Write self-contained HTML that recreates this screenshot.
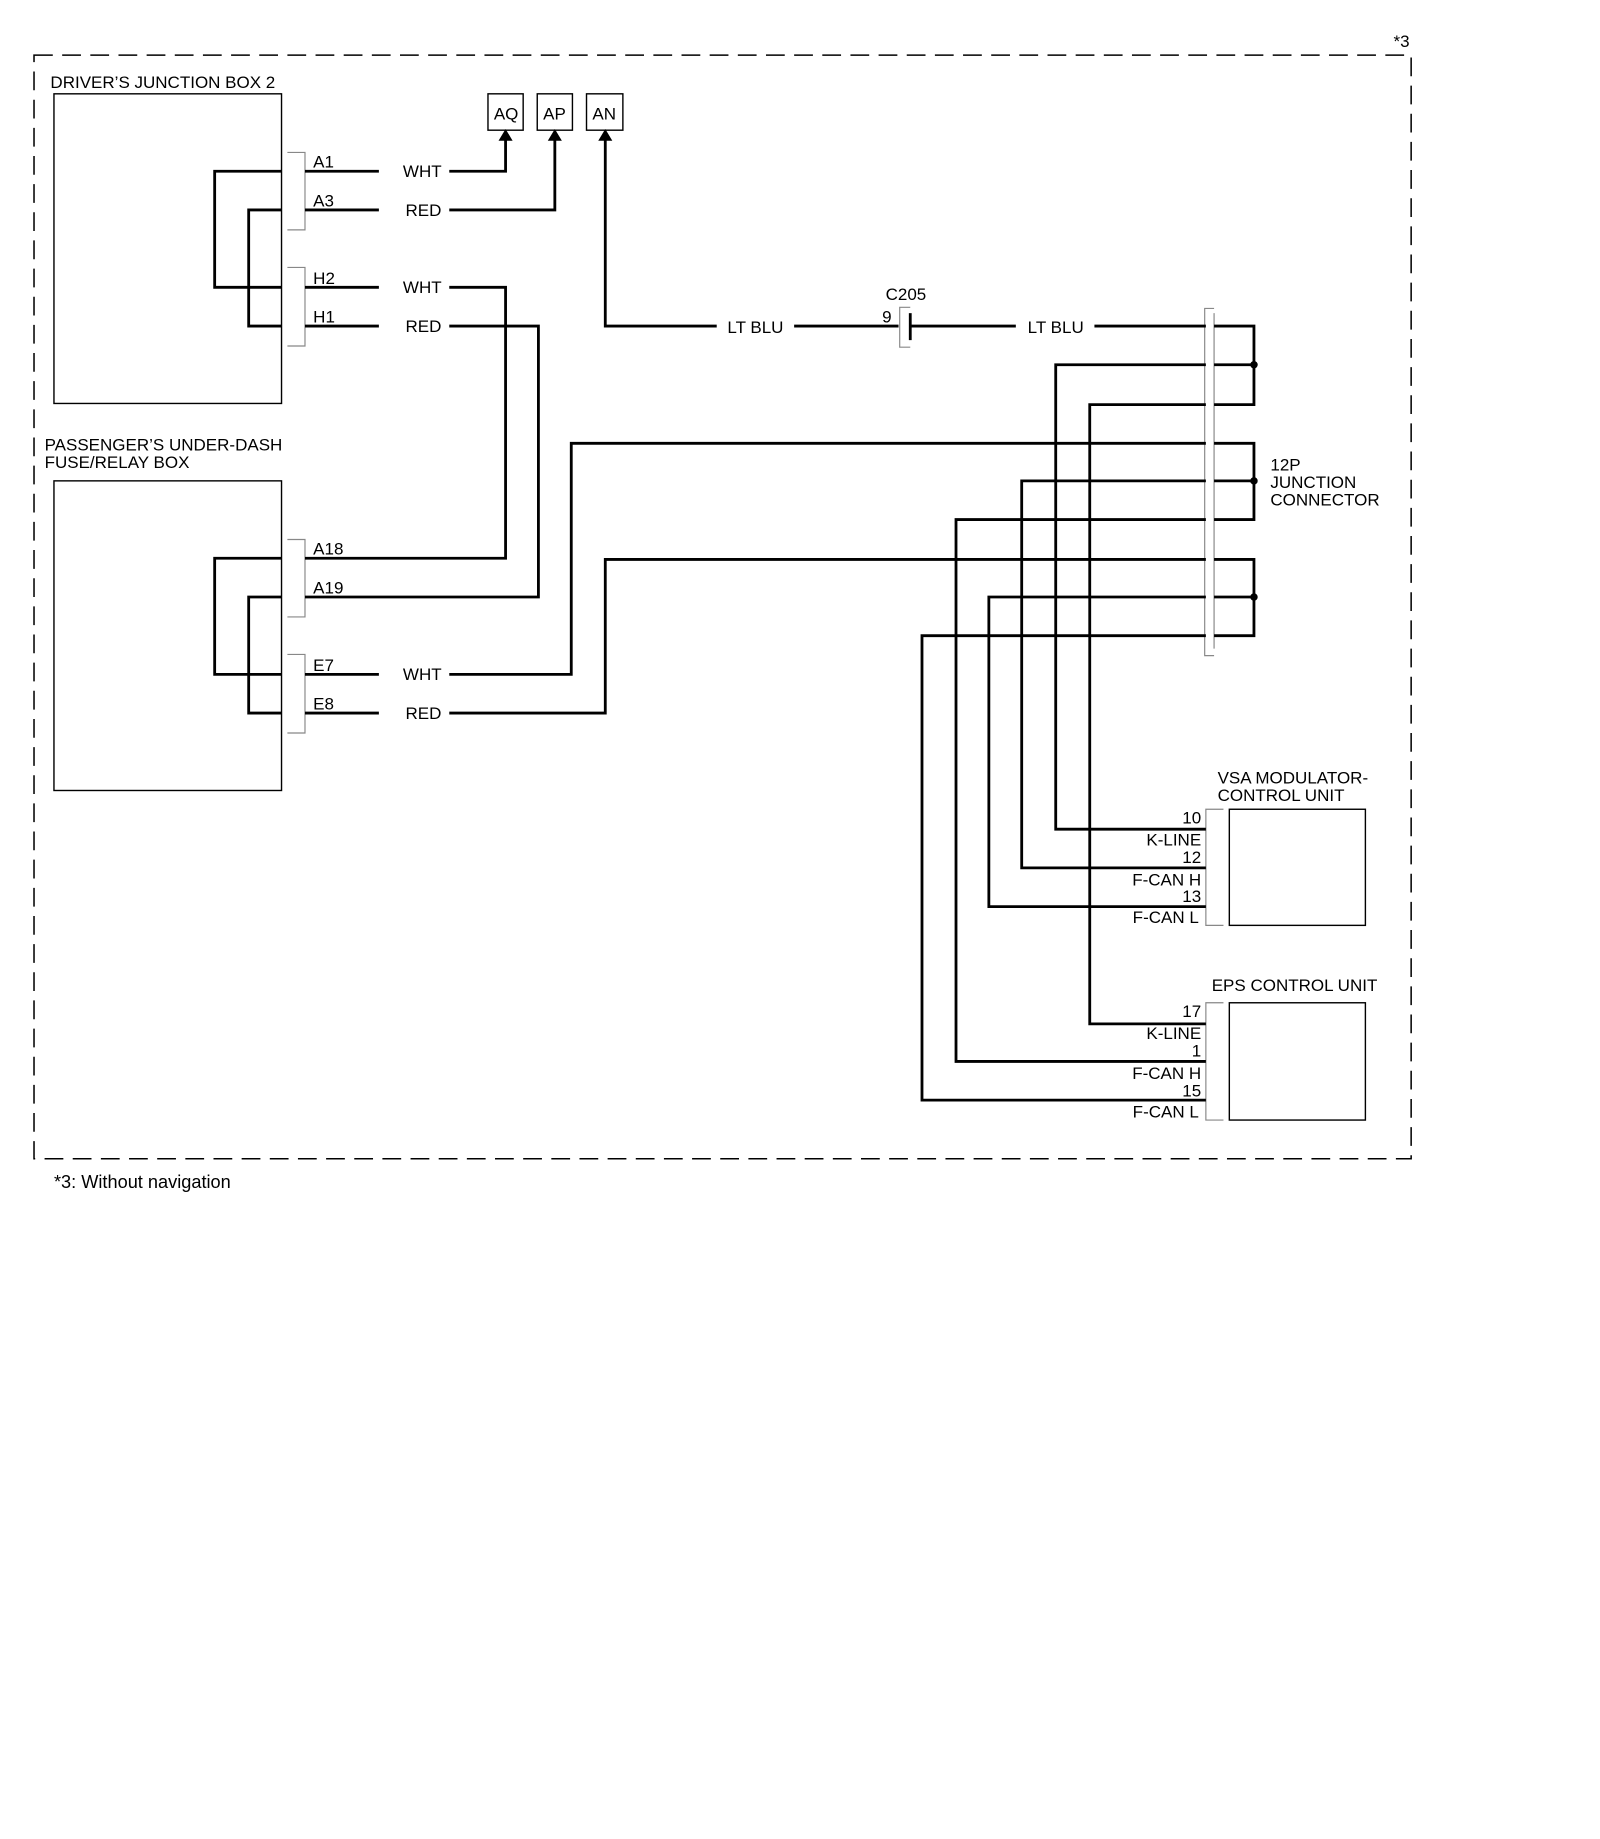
<!DOCTYPE html>
<html><head><meta charset="utf-8"><style>html,body{margin:0;padding:0;background:#fff}svg{display:block}</style></head>
<body>
<svg width="1600" height="1839" viewBox="0 0 1364 1568" preserveAspectRatio="none" xmlns="http://www.w3.org/2000/svg" font-family="Liberation Sans, sans-serif" font-size="14.5" fill="#000">
<rect width="1364" height="1568" fill="#fff"/>
<rect x="29" y="47" width="1174" height="941" fill="none" stroke="#000" stroke-width="1.3" stroke-dasharray="16,8"/>
<text x="1188" y="40">*3</text>
<g fill="none" stroke="#000" stroke-width="1.2">
<rect x="46" y="80" width="194" height="264"/>
<rect x="46" y="410" width="194" height="264"/>
<rect x="416" y="80" width="30" height="31"/>
<rect x="458" y="80" width="30" height="31"/>
<rect x="500" y="80" width="31" height="31"/>
<rect x="1048" y="690" width="116" height="99"/>
<rect x="1048" y="855" width="116" height="100"/>
</g>
<g fill="none" stroke="#888" stroke-width="1">
<path d="M245 130H260V196H245"/>
<path d="M245 228H260V295H245"/>
<path d="M245 460H260V526H245"/>
<path d="M245 558H260V625H245"/>
<path d="M776 262H767V296H776"/>
<path d="M1035 263H1027V559H1035"/>
<path d="M1043 690H1028V789H1043"/>
<path d="M1043 855H1028V955H1043"/>
</g>
<line x1="1035" y1="267" x2="1035" y2="553" stroke="#888" stroke-width="1"/>
<g fill="none" stroke="#000" stroke-width="2.4">
<path d="M240 146H183V245H240"/>
<path d="M240 179H212V278H240"/>
<path d="M240 476H183V575H240"/>
<path d="M240 509H212V608H240"/>
<path d="M260 146H323M383 146H431V116"/>
<path d="M260 179H323M383 179H473V116"/>
<path d="M260 245H323M383 245H431V476H260"/>
<path d="M260 278H323M383 278H459V509H260"/>
<path d="M260 575H323M383 575H487V378H1028"/>
<path d="M260 608H323M383 608H516V477H1028"/>
<path d="M516 116V278H611M677 278H766"/>
<path d="M776 278H866M933 278H1028"/>
<line x1="776" y1="267" x2="776" y2="290"/>
<path d="M1035 278H1069V345H1035M1035 311H1069"/>
<path d="M1035 378H1069V443H1035M1035 410H1069"/>
<path d="M1035 477H1069V542H1035M1035 509H1069"/>
<path d="M1028 311H900V707H1028"/>
<path d="M1028 345H929V873H1028"/>
<path d="M1028 410H871V740H1028"/>
<path d="M1028 443H815V905H1028"/>
<path d="M1028 509H843V773H1028"/>
<path d="M1028 542H786V938H1028"/>
</g>
<g>
<path d="M425 120L431 110L437 120Z"/>
<path d="M467 120L473 110L479 120Z"/>
<path d="M510 120L516 110L522 120Z"/>
<circle cx="1069" cy="311" r="3.2"/>
<circle cx="1069" cy="410" r="3.2"/>
<circle cx="1069" cy="509" r="3.2"/>
</g>
<text x="43" y="75">DRIVER’S JUNCTION BOX 2</text>
<text x="38" y="384">PASSENGER’S UNDER-DASH</text>
<text x="38" y="399">FUSE/RELAY BOX</text>
<text x="421" y="102">AQ</text>
<text x="463" y="102">AP</text>
<text x="505" y="102">AN</text>
<text x="267" y="143">A1</text>
<text x="267" y="176">A3</text>
<text x="267" y="242">H2</text>
<text x="267" y="275">H1</text>
<text x="267" y="473">A18</text>
<text x="267" y="506">A19</text>
<text x="267" y="572">E7</text>
<text x="267" y="605">E8</text>
<g text-anchor="middle">
<text x="360" y="151">WHT</text>
<text x="361" y="184">RED</text>
<text x="360" y="250">WHT</text>
<text x="361" y="283">RED</text>
<text x="360" y="580">WHT</text>
<text x="361" y="613">RED</text>
<text x="644" y="284">LT BLU</text>
<text x="900" y="284">LT BLU</text>
</g>
<text x="755" y="256">C205</text>
<text x="752" y="275">9</text>
<text x="1083" y="401">12P</text>
<text x="1083" y="416">JUNCTION</text>
<text x="1083" y="431">CONNECTOR</text>
<text x="1038" y="668">VSA MODULATOR-</text>
<text x="1038" y="683">CONTROL UNIT</text>
<text x="1033" y="845">EPS CONTROL UNIT</text>
<g text-anchor="end">
<text x="1024" y="702">10</text>
<text x="1024" y="721">K-LINE</text>
<text x="1024" y="736">12</text>
<text x="1024" y="755">F-CAN H</text>
<text x="1024" y="769">13</text>
<text x="1022" y="787">F-CAN L</text>
<text x="1024" y="867">17</text>
<text x="1024" y="886">K-LINE</text>
<text x="1024" y="901">1</text>
<text x="1024" y="920">F-CAN H</text>
<text x="1024" y="935">15</text>
<text x="1022" y="953">F-CAN L</text>
</g>
<text x="46" y="1013" font-size="15.5">*3:  Without navigation</text>
</svg>
</body></html>
